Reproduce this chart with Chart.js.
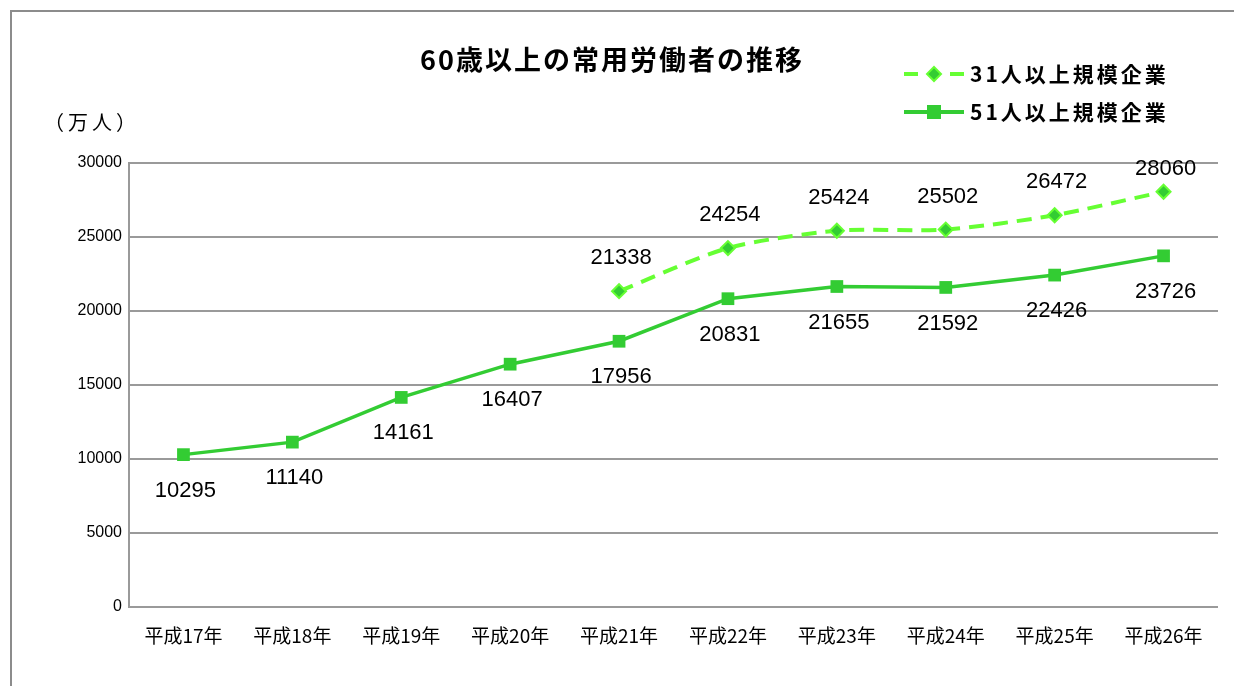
<!DOCTYPE html>
<html>
<head>
<meta charset="utf-8">
<script src="https://cdn.jsdelivr.net/npm/chart.js@4"></script>
<style>
  html, body { margin: 0; padding: 0; background: #fff; }
  #wrap { width: 1234px; height: 686px; }
</style>
</head>
<body>
<div id="wrap"><canvas id="myChart" width="1234" height="686"></canvas></div>
<script>
const categories = ["平成17年", "平成18年", "平成19年", "平成20年", "平成21年",
  "平成22年", "平成23年", "平成24年", "平成25年", "平成26年"];
const over31 = [null, null, null, null, 21338, 24254, 25424, 25502, 26472, 28060];
const over51 = [10295, 11140, 14161, 16407, 17956, 20831, 21655, 21592, 22426, 23726];
const yTicks = [0, 5000, 10000, 15000, 20000, 25000, 30000];
const seriesNames = ["31人以上規模企業", "51人以上規模企業"];
const chartTitle = "60歳以上の常用労働者の推移";
const unitLabel = "（万人）";

const jpFont = '"Noto Sans CJK JP", "Noto Sans", sans-serif';
const numFont = '"Liberation Sans", Arial, sans-serif';
const dashColor = "#66FF33";
const solidColor = "#33CC33";

// frame, title, legend and unit text
const decorPlugin = {
  id: "decor",
  beforeDraw(chart) {
    const ctx = chart.ctx;
    ctx.save();
    ctx.strokeStyle = "#8c8c8c";
    ctx.lineWidth = 2;
    ctx.beginPath();
    ctx.moveTo(11, 700);
    ctx.lineTo(11, 11);
    ctx.lineTo(1240, 11);
    ctx.stroke();
    ctx.restore();
  },
  afterDraw(chart) {
    const ctx = chart.ctx;
    ctx.save();
    ctx.fillStyle = "#000";
    ctx.textBaseline = "middle";

    ctx.font = "bold 27px " + jpFont;
    ctx.letterSpacing = "2px";
    ctx.textAlign = "center";
    ctx.fillText(chartTitle, 612, 60);

    ctx.font = "20px " + jpFont;
    ctx.letterSpacing = "4px";
    ctx.textAlign = "left";
    ctx.fillText(unitLabel, 44, 122);

    // legend
    const rows = [
      { y: 74, dash: [14, 9], color: dashColor, marker: "diamond" },
      { y: 112, dash: [], color: solidColor, marker: "square" }
    ];
    rows.forEach((r, i) => {
      ctx.strokeStyle = r.color;
      ctx.lineWidth = 4;
      ctx.beginPath();
      if (r.dash.length) {
        ctx.moveTo(904, r.y); ctx.lineTo(918, r.y);
        ctx.moveTo(950, r.y); ctx.lineTo(964, r.y);
      } else {
        ctx.moveTo(904, r.y); ctx.lineTo(964, r.y);
      }
      ctx.stroke();
      if (r.marker === "diamond") {
        ctx.fillStyle = solidColor;
        ctx.strokeStyle = dashColor;
        ctx.lineWidth = 2;
        ctx.beginPath();
        ctx.moveTo(934, r.y - 7); ctx.lineTo(941, r.y);
        ctx.lineTo(934, r.y + 7); ctx.lineTo(927, r.y);
        ctx.closePath();
        ctx.fill(); ctx.stroke();
      } else {
        ctx.fillStyle = solidColor;
        ctx.fillRect(927, r.y - 7, 14, 14);
      }
      ctx.fillStyle = "#000";
      ctx.font = "bold 21px " + jpFont;
      ctx.letterSpacing = "3px";
      ctx.textAlign = "left";
      ctx.fillText(seriesNames[i], 970, r.y);
    });
    ctx.restore();
  }
};

// value labels: 31 above the marker, 51 below it
const valueLabels = {
  id: "valueLabels",
  afterDatasetsDraw(chart) {
    const ctx = chart.ctx;
    const top = chart.chartArea.top;
    ctx.save();
    ctx.font = "22px " + numFont;
    ctx.fillStyle = "#000";
    ctx.textAlign = "center";
    ctx.textBaseline = "middle";
    chart.data.datasets.forEach((ds, di) => {
      const meta = chart.getDatasetMeta(di);
      meta.data.forEach((pt, i) => {
        const v = ds.data[i];
        if (v == null) return;
        let y = di === 0 ? Math.max(pt.y - 33, top + 6) : pt.y + 36;
        ctx.fillText(String(v), pt.x + 2, y);
      });
    });
    ctx.restore();
  }
};

new Chart(document.getElementById("myChart"), {
  type: "line",
  data: {
    labels: categories,
    datasets: [
      {
        label: seriesNames[0],
        data: over31,
        borderColor: dashColor,
        borderWidth: 4,
        borderDash: [15, 9],
        pointStyle: "rectRot",
        pointRadius: 7,
        pointBackgroundColor: solidColor,
        pointBorderColor: dashColor,
        pointBorderWidth: 2,
        tension: 0.25,
        spanGaps: false
      },
      {
        label: seriesNames[1],
        data: over51,
        borderColor: solidColor,
        borderWidth: 3.5,
        pointStyle: "rect",
        pointRadius: 9,
        pointBackgroundColor: solidColor,
        pointBorderColor: solidColor,
        pointBorderWidth: 0,
        tension: 0
      }
    ]
  },
  options: {
    responsive: false,
    animation: false,
    layout: { padding: { top: 163, right: 16, left: 0, bottom: 0 } },
    plugins: {
      legend: { display: false },
      title: { display: false },
      tooltip: { enabled: false }
    },
    scales: {
      x: {
        offset: true,
        grid: { display: false, drawTicks: false },
        border: { display: false },
        ticks: {
          color: "#000",
          padding: 17,
          maxRotation: 0,
          font: { family: jpFont, size: 19 }
        },
        afterFit(axis) { axis.height = 79; }
      },
      y: {
        min: 0,
        max: 30000,
        afterBuildTicks(axis) { axis.ticks = yTicks.map(v => ({ value: v })); },
        grid: { color: "#9a9a9a", lineWidth: 2, drawTicks: false },
        border: { display: true, color: "#9a9a9a", width: 2 },
        ticks: {
          color: "#000",
          padding: 7,
          font: { family: numFont, size: 16 },
          callback: v => String(v)
        },
        afterFit(axis) { axis.width = 129; }
      }
    }
  },
  plugins: [decorPlugin, valueLabels]
});
</script>
</body>
</html>
